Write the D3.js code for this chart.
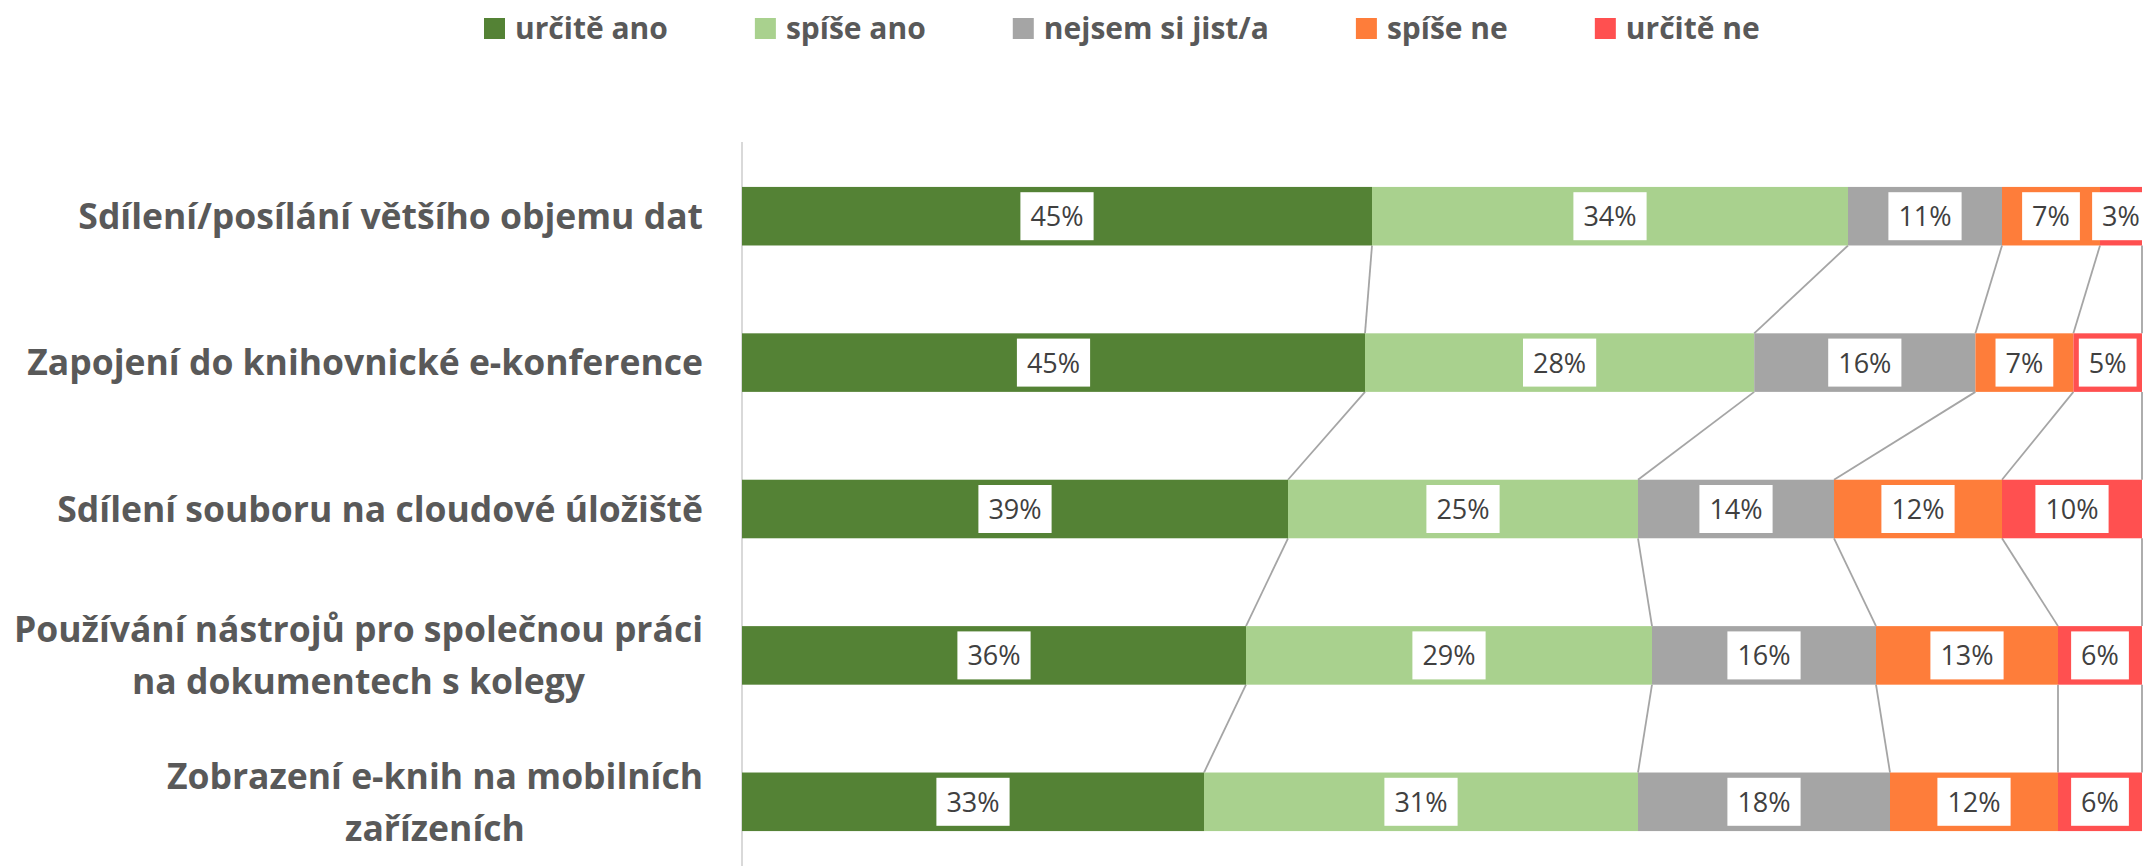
<!DOCTYPE html>
<html>
<head>
<meta charset="utf-8">
<script src="https://cdn.jsdelivr.net/npm/d3@7"></script>
<style>
  body { margin: 0; background: #fff; }
  text { font-family: "Open Sans", sans-serif; }
</style>
</head>
<body>
<script>
// data (percent of respondents)
const categories = [
  "Sdílení/posílání většího objemu dat",
  "Zapojení do knihovnické e-konference",
  "Sdílení souboru na cloudové úložiště",
  "Používání nástrojů pro společnou práci|na dokumentech s kolegy",
  "Zobrazení e-knih na mobilních|zařízeních"
];
const seriesNames = ["určitě ano", "spíše ano", "nejsem si jist/a", "spíše ne", "určitě ne"];
const seriesColors = ["#548235", "#a9d18e", "#a5a5a5", "#fe7d3a", "#ff5050"];

const urciteAno = [45.0, 44.5, 39.0, 36.0, 33.0];
const spiseAno = [34.0, 27.8, 25.0, 29.0, 31.0];
const nejsem = [11.0, 15.8, 14.0, 16.0, 18.0];
const spiseNe = [7.0, 7.0, 12.0, 13.0, 12.0];
const urciteNe = [3.0, 4.9, 10.0, 6.0, 6.0];

const w = 2146, h = 866;
const x0 = 742, x1 = 2142;

let rows = categories.map(function(c, i) {
  return {
    cat: c,
    "určitě ano": urciteAno[i],
    "spíše ano": spiseAno[i],
    "nejsem si jist/a": nejsem[i],
    "spíše ne": spiseNe[i],
    "určitě ne": urciteNe[i]
  };
});

let stacked = d3.stack().keys(seriesNames)(rows);

let x = d3.scaleLinear().domain([0, 100]).range([x0, x1]);
let y = d3.scaleBand().domain(categories).range([143, 875])
  .paddingInner(0.6).paddingOuter(0.3);
let color = d3.scaleOrdinal().domain(seriesNames).range(seriesColors);

var svg = d3.select("body").append("svg")
  .attr("width", w)
  .attr("height", h);

// vertical category axis line
svg.append("line")
  .attr("x1", x0).attr("x2", x0)
  .attr("y1", 142).attr("y2", h)
  .attr("stroke", "#d9d9d9")
  .attr("stroke-width", 2);

// series lines between bars
var bw = y.bandwidth();
stacked.forEach(function(s) {
  for (var i = 0; i < categories.length - 1; i++) {
    svg.append("line")
      .attr("x1", x(s[i][1])).attr("y1", y(categories[i]) + bw)
      .attr("x2", x(s[i + 1][1])).attr("y2", y(categories[i + 1]))
      .attr("stroke", "#a5a5a5")
      .attr("stroke-width", 1.8);
  }
});

// bars
var groups = svg.selectAll("g.series")
  .data(stacked)
  .enter()
  .append("g")
  .attr("class", "series")
  .attr("fill", function(d) { return color(d.key); });

groups.selectAll("rect")
  .data(function(d) { return d; })
  .enter()
  .append("rect")
  .attr("x", function(d) { return x(d[0]); })
  .attr("y", function(d) { return y(d.data.cat); })
  .attr("width", function(d) { return x(d[1]) - x(d[0]); })
  .attr("height", bw);

// data labels in white boxes
var labels = svg.append("g");
stacked.forEach(function(s) {
  s.forEach(function(d) {
    var cx = (x(d[0]) + x(d[1])) / 2;
    var cy = y(d.data.cat) + bw / 2;
    var g = labels.append("g");
    var t = g.append("text")
      .attr("x", cx)
      .attr("y", cy + 10)
      .attr("text-anchor", "middle")
      .attr("font-size", "27px")
      .attr("fill", "#404040")
      .text(Math.round(d[1] - d[0]) + "%");
    var tw = t.node().getComputedTextLength();
    g.insert("rect", "text")
      .attr("x", cx - tw / 2 - 10)
      .attr("y", cy - 24)
      .attr("width", tw + 20)
      .attr("height", 48)
      .attr("fill", "#fff");
  });
});

// category labels, block right aligned, lines centred
var lineGap = 52;
categories.forEach(function(c) {
  var lines = c.split("|");
  var cy = y(c) + bw / 2;
  var g = svg.append("g");
  var texts = lines.map(function(l, k) {
    return g.append("text")
      .attr("y", cy + 12.7 - (lines.length - 1) * lineGap / 2 + k * lineGap)
      .attr("text-anchor", "middle")
      .attr("font-size", "35.5px")
      .attr("font-weight", "bold")
      .attr("fill", "#595959")
      .text(l);
  });
  var maxW = d3.max(texts, function(t) { return t.node().getComputedTextLength(); });
  texts.forEach(function(t) { t.attr("x", 703 - maxW / 2); });
});

// legend
var lx = 484;
seriesNames.forEach(function(n) {
  svg.append("rect")
    .attr("x", lx).attr("y", 18)
    .attr("width", 21).attr("height", 21)
    .attr("fill", color(n));
  var t = svg.append("text")
    .attr("x", lx + 31)
    .attr("y", 39)
    .attr("font-size", "30px")
    .attr("font-weight", "bold")
    .attr("fill", "#595959")
    .text(n);
  lx += 31 + t.node().getComputedTextLength() + 87;
});
</script>
</body>
</html>
